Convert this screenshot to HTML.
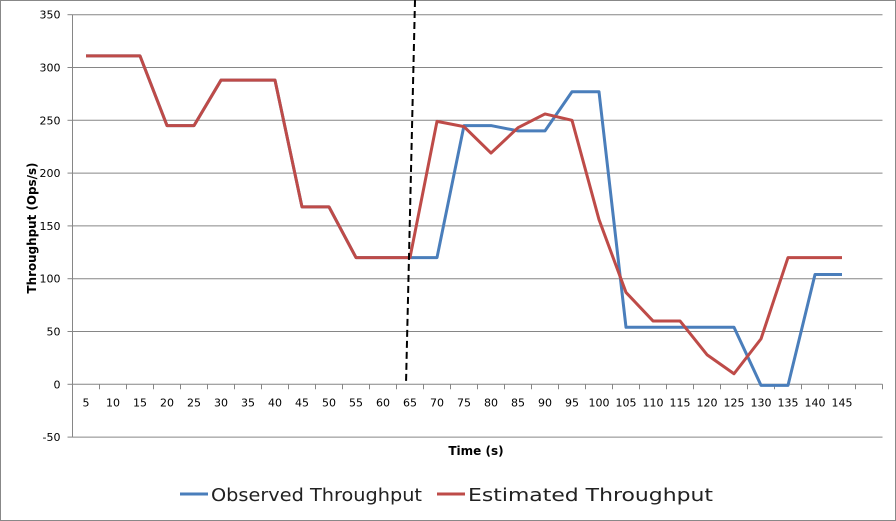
<!DOCTYPE html>
<html><head><meta charset="utf-8"><style>
html,body{margin:0;padding:0;background:#fff}
svg{display:block}
text{font-family:"DejaVu Sans","Liberation Sans",sans-serif}
</style></head><body>
<svg width="896" height="521" viewBox="0 0 896 521">
<rect x="0.5" y="0.5" width="895" height="520" fill="#fff" stroke="#888"/>
<g id="grid"></g><g id="xaxis"></g><g id="series"></g>
<line x1="415" y1="0" x2="406" y2="384" stroke="#000" stroke-width="2" stroke-dasharray="7,4"/>
<text x="0" y="0" transform="translate(36,228) rotate(-90)" text-anchor="middle" font-size="12" font-weight="bold" textLength="131" lengthAdjust="spacingAndGlyphs">Throughput (Ops/s)</text>
<text x="476" y="455" text-anchor="middle" font-size="12" font-weight="bold">Time (s)</text>
<g>
<line x1="180" y1="494" x2="208" y2="494" stroke="#4a7ebb" stroke-width="3"/>
<text x="211" y="501" font-size="18" fill="#222" textLength="211" lengthAdjust="spacingAndGlyphs">Observed Throughput</text>
<line x1="437" y1="494" x2="465" y2="494" stroke="#be4b48" stroke-width="3"/>
<text x="468" y="501" font-size="18" fill="#222" textLength="245" lengthAdjust="spacingAndGlyphs">Estimated Throughput</text>
</g>
</svg>
<script>
const categories=[5,10,15,20,25,30,35,40,45,50,55,60,65,70,75,80,85,90,95,100,105,110,115,120,125,130,135,140,145];
const observed=[311,311,311,245,245,288,288,288,168,168,120,120,120,120,245,245,240,240,277,277,54,54,54,54,54,-1,-1,104,104];
const estimated=[311,311,311,245,245,288,288,288,168,168,120,120,120,249,244,219,243,256,250,156,87,60,60,28,10,43,120,120,120];
const yTicks=[350,300,250,200,150,100,50,0,-50];
const NS='http://www.w3.org/2000/svg';
const X0=72.5,BW=27,NB=30,Y0=384.3,K=1.056;
const xs=i=>X0+(i+0.5)*BW, ys=v=>Y0-v*K;
function mk(t,a,p){const e=document.createElementNS(NS,t);for(const k in a)e.setAttribute(k,a[k]);p.appendChild(e);return e;}
const g=document.getElementById('grid'),xa=document.getElementById('xaxis'),s=document.getElementById('series');
yTicks.forEach(v=>{
 const l=mk('line',{x1:X0,x2:X0+NB*BW,y1:ys(v),y2:ys(v),stroke:'#868686','stroke-width':1},g);
 
 
 const tk=mk('line',{x1:X0-5,x2:X0,y1:ys(v),y2:ys(v),stroke:'#868686'},g);
 
 
 const t=mk('text',{x:X0-12,y:ys(v)+4,'text-anchor':'end','font-size':11},g);
 t.textContent=v;
 
 
});
const ax=mk('line',{x1:X0,x2:X0,y1:ys(350),y2:ys(-50),stroke:'#868686'},xa);


for(let i=0;i<=NB;i++){
 const tk=mk('line',{x1:X0+i*BW,x2:X0+i*BW,y1:Y0,y2:Y0+5,stroke:'#868686'},xa);
 
 
}
categories.forEach((c,i)=>{
 const t=mk('text',{x:xs(i),y:Y0+22,'text-anchor':'middle','font-size':11},xa);
 t.textContent=c;
 
 
});
function line(vals,col,name){
 const p=mk('polyline',{points:vals.map((v,i)=>xs(i)+','+ys(v)).join(' '),fill:'none',stroke:col,'stroke-width':3,'stroke-linejoin':'round'},s);
 
 
}
line(observed,'#4a7ebb','observed-throughput-line');
line(estimated,'#be4b48','estimated-throughput-line');
</script>
</body></html>
